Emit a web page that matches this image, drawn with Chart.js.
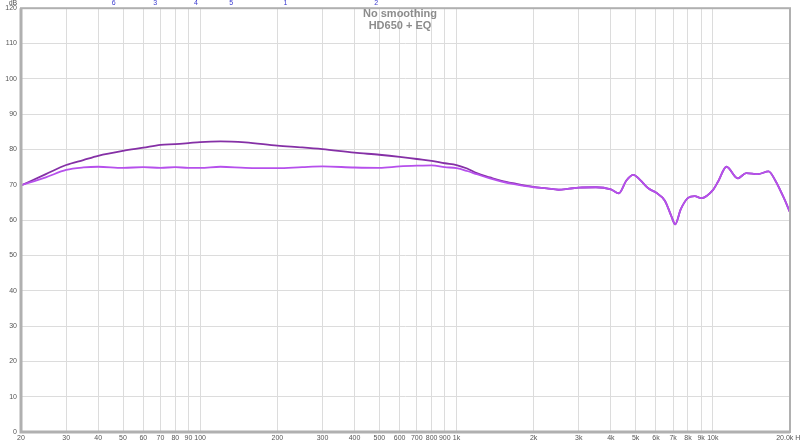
<!DOCTYPE html>
<html>
<head>
<meta charset="utf-8">
<script src="https://cdn.jsdelivr.net/npm/chart.js@4.4.0/dist/chart.umd.min.js"></script>
<style>
  body { margin: 0; background: #fff; }
  canvas { display: block; }
</style>
</head>
<body>
<canvas id="frChart" width="800" height="443"></canvas>
<script>
// Frequency response data (Hz / dB)
const lowFreqs = [20, 25, 30, 35, 40, 50, 60, 70, 80, 90, 100, 120, 150, 200, 250, 300, 400, 500, 600, 700, 800, 900, 1000, 1100, 1200, 1350, 1500, 1700, 2000];
const origLow = [69.8, 73.0, 75.6, 77.0, 78.2, 79.6, 80.5, 81.3, 81.5, 81.8, 82.1, 82.3, 82.0, 81.1, 80.6, 80.1, 79.1, 78.5, 77.9, 77.3, 76.8, 76.1, 75.6, 74.6, 73.3, 72.1, 71.1, 70.3, 69.4];
const eqLow = [69.9, 72.1, 74.2, 74.9, 75.1, 74.8, 75.0, 74.8, 75.0, 74.8, 74.8, 75.1, 74.8, 74.7, 75.0, 75.2, 74.9, 74.8, 75.2, 75.4, 75.5, 75.0, 74.7, 73.9, 73.0, 71.8, 70.9, 70.1, 69.3];
// above 2 kHz both traces are the same
const highFreqs = [2250, 2500, 2750, 3000, 3500, 4000, 4300, 4600, 4900, 5200, 5600, 6000, 6500, 6900, 7130, 7500, 8000, 8500, 9000, 10000, 10500, 11300, 12500, 13500, 15000, 16500, 17500, 19000, 20000];
const highDb = [69.0, 68.6, 68.9, 69.2, 69.3, 68.7, 67.6, 71.2, 72.8, 71.4, 69.0, 67.8, 65.5, 61.0, 58.8, 63.1, 66.3, 66.8, 66.2, 68.5, 71.0, 75.1, 71.8, 73.3, 73.0, 73.8, 71.3, 66.0, 62.2];

const xTicks = [20, 30, 40, 50, 60, 70, 80, 90, 100, 200, 300, 400, 500, 600, 700, 800, 900, 1000, 2000, 3000, 4000, 5000, 6000, 7000, 8000, 9000, 10000, 20000];
const xTickLabels = ['20', '30', '40', '50', '60', '70', '80', '90', '100', '200', '300', '400', '500', '600', '700', '800', '900', '1k', '2k', '3k', '4k', '5k', '6k', '7k', '8k', '9k', '10k', '20.0k Hz'];

// EQ filter markers along the top
const filterFreqs = [46, 66.7, 96.2, 132, 215, 486];
const filterLabels = ['6', '3', '4', '5', '1', '2'];

const toPoints = (f, v) => f.map((x, i) => ({ x: x, y: v[i] }));
const origPts = toPoints(lowFreqs.concat(highFreqs), origLow.concat(highDb));
const eqPts = toPoints(lowFreqs.concat(highFreqs), eqLow.concat(highDb));

const framePlugin = {
    id: 'frame',
    afterDraw(chart) {
        const ctx = chart.ctx;
        const a = chart.chartArea;
        const x = chart.scales.x;
        ctx.save();
        // plot frame
        ctx.strokeStyle = '#b0b0b0';
        ctx.lineWidth = 2;
        ctx.strokeRect(a.left, a.top, a.right - a.left, a.bottom - a.top);
        ctx.lineWidth = 3;
        ctx.beginPath();
        ctx.moveTo(a.left, a.top);
        ctx.lineTo(a.left, a.bottom);
        ctx.lineTo(a.right, a.bottom);
        ctx.stroke();
        // titles
        ctx.fillStyle = '#8c8c8c';
        ctx.font = 'bold 11px "Liberation Sans", Arial, sans-serif';
        ctx.textAlign = 'center';
        ctx.fillText('No smoothing', 400, 17);
        ctx.fillText('HD650 + EQ', 400, 29);
        // dB unit
        ctx.font = '7px "Liberation Sans", Arial, sans-serif';
        ctx.fillStyle = '#555';
        ctx.fillText('dB', 13, 5);
        // filter markers
        ctx.fillStyle = '#3a3ad0';
        filterFreqs.forEach((f, i) => {
            ctx.fillText(filterLabels[i], x.getPixelForValue(f), 5);
        });
        ctx.restore();
    }
};

const ctx = document.getElementById('frChart').getContext('2d');

// first dataset is drawn on top, so the EQ trace goes first
const frChart = new Chart(ctx, {
    type: 'line',
    data: {
        datasets: [{
            label: 'HD650 + EQ',
            data: eqPts,
            borderColor: '#b650ec',
            borderWidth: 1.8,
            pointRadius: 0,
            cubicInterpolationMode: 'monotone'
        }, {
            label: 'HD650',
            data: origPts,
            borderColor: '#8530a6',
            borderWidth: 1.8,
            pointRadius: 0,
            cubicInterpolationMode: 'monotone'
        }]
    },
    options: {
        responsive: false,
        animation: false,
        layout: { padding: { top: 7, right: 10, left: 0, bottom: 0 } },
        plugins: {
            legend: { display: false },
            tooltip: { enabled: false }
        },
        scales: {
            x: {
                type: 'logarithmic',
                min: 20,
                max: 20000,
                afterBuildTicks: (scale) => {
                    scale.ticks = xTicks.map(v => ({ value: v }));
                },
                afterFit: (scale) => {
                    scale.height = 11;
                    scale.paddingLeft = 0;
                    scale.paddingRight = 0;
                },
                ticks: {
                    autoSkip: false,
                    maxRotation: 0,
                    padding: 2,
                    color: '#555',
                    font: { size: 7, family: '"Liberation Sans", Arial, sans-serif' },
                    callback: (value) => {
                        const i = xTicks.indexOf(value);
                        return i >= 0 ? xTickLabels[i] : '';
                    }
                },
                grid: { color: '#dcdcdc', lineWidth: 1, drawTicks: false },
                border: { display: false }
            },
            y: {
                min: 0,
                max: 120,
                afterFit: (scale) => {
                    scale.width = 21;
                },
                ticks: {
                    stepSize: 10,
                    padding: 4,
                    color: '#555',
                    font: { size: 7, family: '"Liberation Sans", Arial, sans-serif' }
                },
                grid: { color: '#dcdcdc', lineWidth: 1, drawTicks: false },
                border: { display: false }
            }
        }
    },
    plugins: [framePlugin]
});
</script>
</body>
</html>
